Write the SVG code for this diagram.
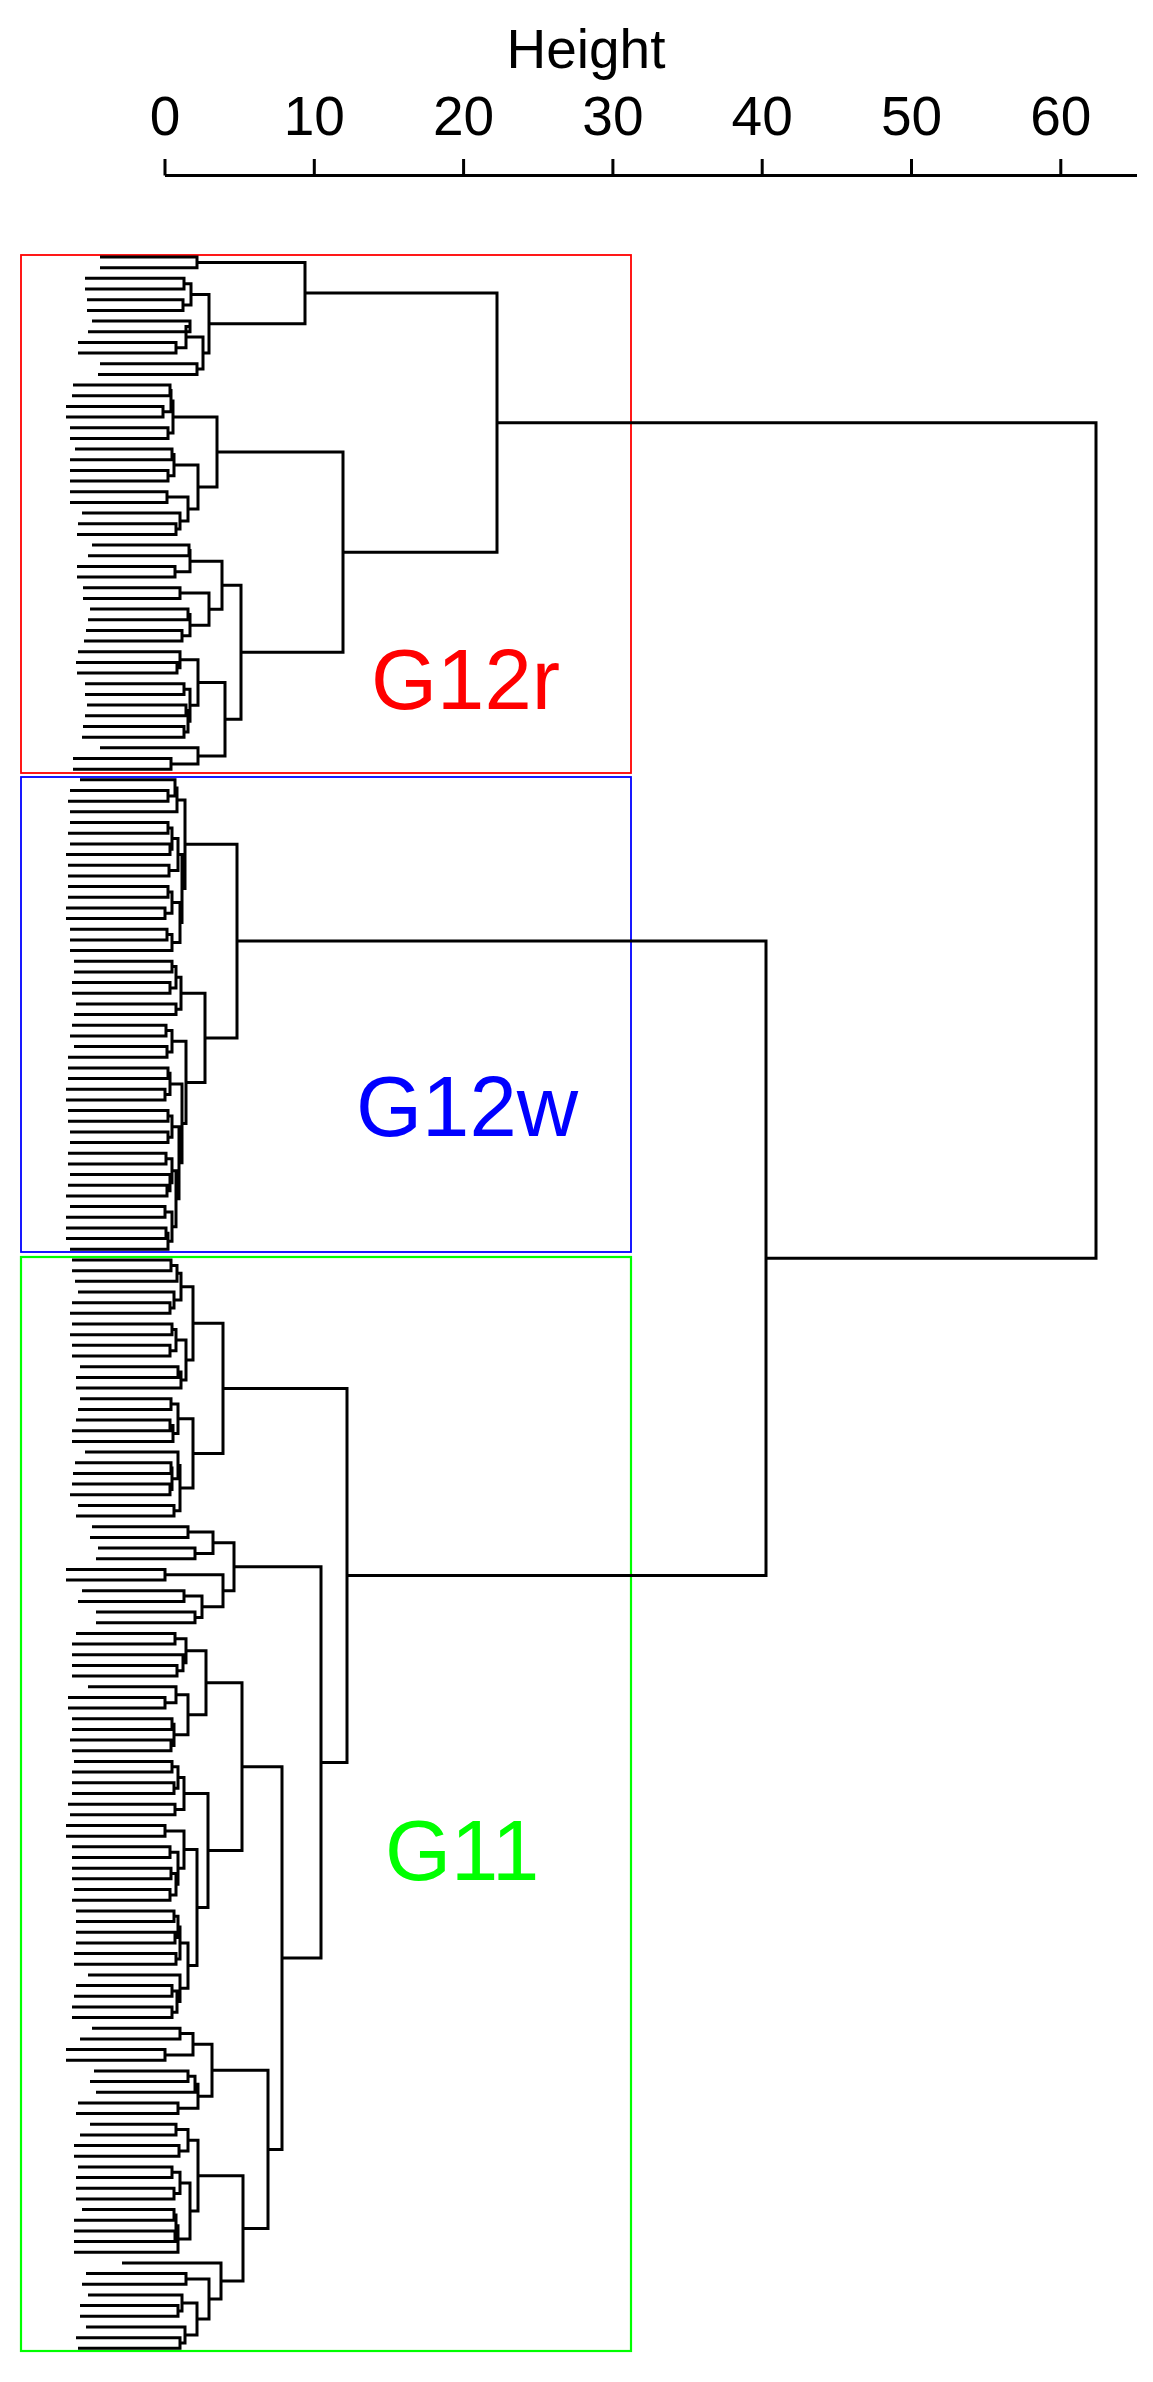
<svg xmlns="http://www.w3.org/2000/svg" width="1153" height="2382" viewBox="0 0 1153 2382">
<style>
.t{font-family:"Liberation Sans",Arial,sans-serif;font-size:55px;fill:#000;text-anchor:middle}
.g{font-family:"Liberation Sans",Arial,sans-serif;font-size:85px}
.d path{fill:none;stroke:#000;stroke-width:3}
.ax{fill:none;stroke:#000;stroke-width:3}
</style>
<rect width="1153" height="2382" fill="#fff"/>
<g id="axis">
<text class="t" x="586" y="68">Height</text>
<path class="ax" d="M165 175.5H1137M165 159V175.5M314.3 159V175.5M463.6 159V175.5M612.9 159V175.5M762.2 159V175.5M911.5 159V175.5M1060.8 159V175.5"/>
<text class="t" x="165" y="135">0</text><text class="t" x="314.3" y="135">10</text><text class="t" x="463.6" y="135">20</text><text class="t" x="612.9" y="135">30</text><text class="t" x="762.2" y="135">40</text><text class="t" x="911.5" y="135">50</text><text class="t" x="1060.8" y="135">60</text>
</g>
<g id="G12r"><rect x="21" y="255" width="610" height="518" fill="none" stroke="#ff0000" stroke-width="1.8"/><text class="g" x="371" y="709" fill="#ff0000">G12r</text></g>
<g id="G12w"><rect x="21" y="777" width="610" height="475" fill="none" stroke="#0000ff" stroke-width="1.8"/><text class="g" x="356" y="1136" fill="#0000ff">G12w</text></g>
<g id="G11"><rect x="21" y="1257" width="610" height="1094" fill="none" stroke="#00ff00" stroke-width="2.2"/><text class="g" x="385" y="1880" fill="#00ff00">G11</text></g>
<g id="connectors" class="d">
<path d="M100 257H197V267.7H100M85 278.3H184V289H85M87 299.7H183V310.4H87M184 283.7H191V305.1H183M92 321H190V331.7H88M78 342.4H176V353H78M190 326.4H186V347.7H176M100 363.7H197V374.4H98M186 337.1H203V369.1H197M191 294.4H209V353.1H203M197 262.4H305V323.8H209"/>
<path d="M73 385H170V395.7H72M66 406.4H163V417.1H66M170 390.4H171V411.8H163M70 427.7H168V438.4H70M171 401.1H173V433.1H168M75 449.1H172V459.7H70M70 470.4H168V481.1H70M172 454.4H174V475.8H168M70 491.7H167V502.4H70M78 523.8H176V534.4H77M82 513.1H180V529.1H176M167 497.1H188V521.1H180M174 465.1H198V509.1H188M173 417.1H217V487.1H198"/>
<path d="M92 545.1H189V555.8H88M77 566.4H175V577.1H77M189 550.5H190V571.8H175M83 587.8H180V598.4H83M90 609.1H188V619.8H88M86 630.5H182V641.1H84M188 614.5H190V635.8H182M180 593.1H209V625.2H190M190 561.2H222V609.2H209M76 662.5H177V673.1H77M78 651.8H180V667.8H177M85 683.8H184V694.5H85M87 705.1H186V715.8H85M83 726.5H184V737.2H82M186 710.5H188V731.9H184M184 689.2H190V721.2H188M180 659.8H198V705.2H190M73 758.5H171V769.2H73M100 747.8H198V763.9H171M198 682.5H225V755.9H198M222 585.2H241V719.2H225M217 452.1H343V652.2H241M305 293.1H497V552.2H343"/>
<path d="M70 790.5H168V801.2H68M80 779.8H175V795.9H168M175 787.9H177V811.8H70M70 822.5H168V833.2H68M70 843.9H170V854.5H66M168 827.9H172V849.2H170M68 865.2H169V875.9H68M172 838.6H178V870.6H169M68 886.5H168V897.2H68M66 907.9H165V918.5H66M168 891.9H172V913.2H165M70 929.2H167V939.9H70M167 934.6H172V950.6H70M172 902.6H180V942.6H172M178 854.6H182V922.6H180M177 799.9H185V888.6H182"/>
<path d="M74 961.2H172V971.9H74M72 982.6H170V993.2H72M172 966.6H176V987.9H170M76 1003.9H176V1014.6H74M176 977.3H181V1009.3H176M72 1025.2H166V1035.9H70M74 1046.6H167V1057.3H68M166 1030.6H172V1052H167M68 1067.9H168V1078.6H68M66 1089.3H165V1099.9H66M168 1073.3H170V1094.6H165M68 1110.6H168V1121.3H68M70 1131.9H168V1142.6H70M168 1116H172V1137.3H168M68 1153.3H166V1164H68M68 1185.3H167V1196H66M70 1174.6H170V1190.7H167M166 1158.7H172V1182.7H170M70 1206.6H165V1217.3H66M66 1228H166V1238.6H66M166 1233.3H168V1249.3H70M165 1212H172V1241.3H168M172 1170.7H176V1226.7H172M172 1126.7H179V1198.7H176M170 1084H182V1162.7H179M172 1041.3H186V1123.4H182M181 993.3H205V1082.4H186M185 844.3H237V1037.9H205"/>
<path d="M72 1260H171V1270.7H72M171 1265.4H177V1281.3H75M72 1302.7H170V1313.3H70M78 1292H174V1308H170M177 1273.3H181V1300H174M72 1324H172V1334.7H70M72 1345.3H170V1356H72M172 1329.4H176V1350.7H170M80 1366.7H178V1377.4H76M178 1372H181V1388H76M176 1340H186V1380H181M181 1286.7H193V1360H186"/>
<path d="M80 1398.7H171V1409.4H78M76 1420H170V1430.7H72M170 1425.4H173V1441.4H72M171 1404H178V1433.4H173M75 1462.7H171V1473.4H73M72 1484.1H170V1494.7H70M171 1468H172V1489.4H170M85 1452H178V1478.7H172M78 1505.4H174V1516.1H76M178 1465.4H180V1510.8H174M178 1418.7H193V1488.1H180M193 1323.3H223V1453.4H193"/>
<path d="M92 1526.7H188V1537.4H90M98 1548.1H195V1558.7H96M188 1532.1H213V1553.4H195M66 1569.4H165V1580.1H66M82 1590.8H184V1601.4H78M96 1612.1H195V1622.8H96M184 1596.1H202V1617.5H195M165 1574.8H223V1606.8H202M213 1542.8H234V1590.8H223"/>
<path d="M76 1633.4H175V1644.1H72M72 1665.4H177V1676.1H72M72 1654.8H183V1670.8H177M175 1638.8H186V1662.8H183M68 1697.5H165V1708.1H68M88 1686.8H176V1702.8H165M72 1718.8H172V1729.5H72M70 1740.1H171V1750.8H72M172 1724.2H174V1745.5H171M176 1694.8H188V1734.8H174M186 1650.8H206V1714.8H188"/>
<path d="M74 1761.5H172V1772.1H72M72 1782.8H174V1793.5H72M172 1766.8H178V1788.2H174M68 1804.2H175V1814.8H70M178 1777.5H184V1809.5H175M66 1825.5H165V1836.2H66M72 1846.8H170V1857.5H72M72 1868.2H171V1878.8H72M74 1889.5H170V1900.2H72M171 1873.5H176V1894.9H170M170 1852.2H178V1884.2H176M165 1830.9H184V1868.2H178M76 1910.9H174V1921.5H76M76 1932.2H175V1942.9H76M174 1916.2H178V1937.6H175M74 1953.5H176V1964.2H74M178 1926.9H180V1958.9H176M76 1985.5H172V1996.2H74M72 2006.9H172V2017.6H72M172 1990.9H177V2012.3H172M88 1974.9H180V2001.6H177M180 1942.9H188V1988.3H180M184 1849.6H197V1965.6H188M184 1793.5H208V1907.6H197M206 1682.8H242V1850.6H208"/>
<path d="M92 2028.2H180V2038.9H80M66 2049.6H165V2060.2H66M180 2033.6H193V2054.9H165M94 2070.9H188V2081.6H90M188 2076.3H195V2092.2H96M78 2102.9H178V2113.6H76M195 2084.3H198V2108.3H178M193 2044.3H212V2096.3H198"/>
<path d="M90 2124.3H176V2134.9H80M74 2145.6H179V2156.3H74M176 2129.6H188V2151H179M78 2166.9H172V2177.6H76M76 2188.3H174V2198.9H76M172 2172.3H180V2193.6H174M82 2209.6H174V2220.3H74M74 2231H175V2241.6H74M174 2215H176V2236.3H175M176 2225.7H178V2252.3H74M180 2183H190V2239H178M188 2140.3H198V2211H190"/>
<path d="M86 2273.6H186V2284.3H82M80 2305.6H178V2316.3H80M88 2295H182V2311H178M76 2337.7H180V2348.3H78M86 2327H185V2343H180M182 2303H197V2335H185M186 2279H209V2319H197M122 2263H221V2299H209M198 2175.7H243V2281H221M212 2070.3H268V2228.4H243M242 1766.7H282V2149.4H268M234 1566.8H321V1958.1H282M223 1388.4H347V1762.5H321"/>
<path d="M237 941.1H766V1575.5H347M497 422.7H1096V1258.3H766"/>
</g>
</svg>
